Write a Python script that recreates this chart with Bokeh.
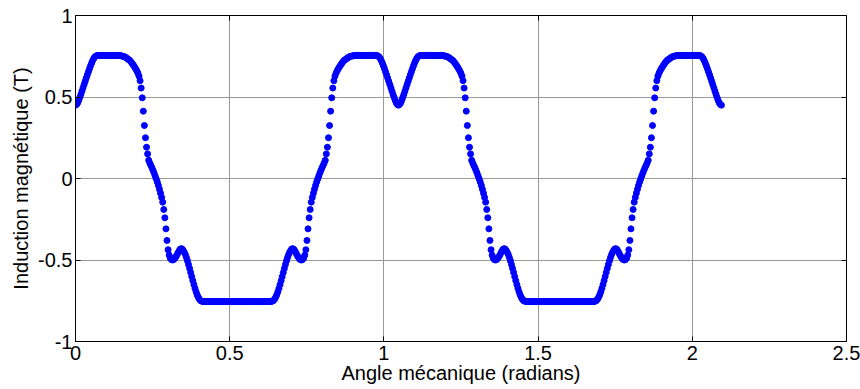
import numpy as np
from bokeh.plotting import figure
from bokeh.models import Range1d, LinearAxis
from bokeh.embed import file_html
from bokeh.resources import INLINE

# Magnetic induction (T), one sample every pi/900 rad,
# from the dip at angle 0 to the middle of the first period (pi/6 rad).
b_half = [
    0.450, 0.454, 0.464, 0.479, 0.497, 0.516, 0.536, 0.556, 0.576, 0.596,
    0.616, 0.636, 0.655, 0.674, 0.692, 0.709, 0.724, 0.737, 0.746, 0.751,
    0.754, 0.755, 0.755, 0.755, 0.755, 0.755, 0.755, 0.755, 0.755, 0.755,
    0.755, 0.755, 0.755, 0.755, 0.755, 0.755, 0.755, 0.755, 0.755, 0.755,
    0.755, 0.754, 0.753, 0.752, 0.750, 0.748, 0.745, 0.741, 0.736, 0.731,
    0.727, 0.720, 0.712, 0.703, 0.693, 0.683, 0.672, 0.660, 0.646, 0.628,
    0.600, 0.555, 0.495, 0.413, 0.325, 0.250, 0.192, 0.151, 0.112, 0.095,
    0.080, 0.066, 0.050, 0.033, 0.015, -0.003, -0.022, -0.043, -0.066, -0.090,
    -0.116, -0.145, -0.190, -0.241, -0.309, -0.380, -0.437, -0.470, -0.488, -0.497,
    -0.500, -0.498, -0.492, -0.483, -0.472, -0.459, -0.446, -0.436, -0.431, -0.432,
    -0.440, -0.452, -0.466, -0.484, -0.505, -0.528, -0.552, -0.577, -0.602, -0.627,
    -0.651, -0.674, -0.695, -0.713, -0.728, -0.740, -0.748, -0.752, -0.754, -0.755,
    -0.755, -0.755, -0.755, -0.755, -0.755, -0.755, -0.755, -0.755, -0.755, -0.755,
    -0.755, -0.755, -0.755, -0.755, -0.755, -0.755, -0.755, -0.755, -0.755, -0.755,
    -0.755, -0.755, -0.755, -0.755, -0.755, -0.755, -0.755, -0.755, -0.755, -0.755,
    -0.755,
]

x_ticks = [0, 0.5, 1, 1.5, 2, 2.5]
x_tick_labels = ["0", "0.5", "1", "1.5", "2", "2.5"]
y_ticks = [-1, -0.5, 0, 0.5, 1]
y_tick_labels = ["-1", "-0.5", "0", "0.5", "1"]

# each period is symmetric about its middle; the chart shows two periods
b_period = b_half + b_half[-2::-1]
b_values = b_period + b_period[1:]
angle = np.arange(len(b_values)) * np.pi / 900

FONT = "Liberation Sans"

p = figure(width=860, height=389,
           x_range=Range1d(0, 2.5), y_range=Range1d(-1, 1),
           output_backend="svg", toolbar_location=None,
           min_border_left=75, min_border_right=14,
           min_border_top=15, min_border_bottom=48,
           background_fill_color="white", border_fill_color="white")
p.outline_line_color = "black"

p.add_layout(LinearAxis(), "above")
p.add_layout(LinearAxis(), "right")

for ax in p.xaxis + p.yaxis:
    ax.major_tick_in = 5
    ax.major_tick_out = 0
    ax.minor_tick_in = 0
    ax.minor_tick_out = 0
    ax.axis_line_color = "black"
    ax.major_tick_line_color = "black"
    ax.major_label_text_font = FONT
    ax.major_label_text_color = "black"
    ax.major_label_text_font_size = "20px"
    ax.axis_label_text_font = FONT
    ax.axis_label_text_font_size = "20px"
    ax.axis_label_text_font_style = "normal"
    ax.axis_label_text_color = "black"

p.xaxis.ticker = x_ticks
p.yaxis.ticker = y_ticks
p.xgrid.ticker = x_ticks
p.ygrid.ticker = y_ticks

bottom = p.below[0]
left = p.left[0]
bottom.major_label_overrides = dict(zip(x_ticks, x_tick_labels))
left.major_label_overrides = dict(zip(y_ticks, y_tick_labels))
bottom.axis_label = "Angle mécanique (radians)"
left.axis_label = "Induction magnétique (T)"
bottom.major_label_standoff = 4
bottom.axis_label_standoff = -1
left.major_label_standoff = 3
left.axis_label_standoff = 3

for ax in (p.above[0], p.right[0]):
    ax.major_label_text_font_size = "0px"
    ax.major_label_text_color = None
    ax.major_label_standoff = 0
    ax.axis_label = None

p.xgrid.grid_line_color = "#999999"
p.ygrid.grid_line_color = "#999999"

p.scatter(angle, b_values, size=6, marker="circle",
          fill_color="#0000ff", line_color="#0000ff")

open("out.html", "w").write(file_html(p, INLINE))
